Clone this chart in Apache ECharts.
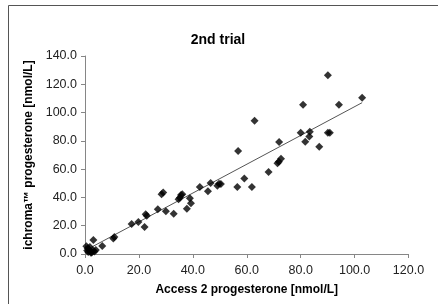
<!DOCTYPE html>
<html>
<head>
<meta charset="utf-8">
<script src="https://cdn.jsdelivr.net/npm/echarts@6/dist/echarts.min.js"></script>
<style>
  html, body { margin: 0; padding: 0; background: #fff; }
  #chart { width: 438px; height: 304px; }
</style>
</head>
<body>
<div id="chart"></div>
<script>
// Access 2 progesterone (x) vs ichroma progesterone (y), nmol/L
var accessValues = [
    0.5, 1.0, 1.5, 1.2, 2.0, 2.5, 3.0, 3.5, 4.0, 2.2, 1.8, 0.8,
    3.1, 6.4, 10.5, 10.9, 17.3, 19.8, 22.1, 22.5, 22.9, 27.0,
    28.4, 29.0, 30.0, 32.9, 34.7, 35.2, 35.6, 36.1, 37.8, 38.9, 39.3,
    42.6, 45.6, 46.6, 49.1, 49.7, 50.4, 56.5, 56.8, 59.1, 61.9, 62.9,
    68.1, 71.4, 71.9, 72.0, 72.7, 80.0, 80.9, 81.7, 83.2, 83.4,
    86.9, 90.1, 90.1, 90.8, 94.2, 102.8
];
var ichromaValues = [
    5.5, 4.0, 3.0, 1.5, 2.0, 1.0, 2.5, 1.8, 2.8, 0.8, 5.0, 2.5,
    9.9, 5.7, 11.0, 12.0, 21.2, 22.6, 19.1, 28.1, 27.0, 31.6,
    42.2, 43.4, 30.2, 28.5, 38.7, 39.8, 41.7, 42.2, 32.0, 39.4, 35.8,
    47.4, 44.3, 50.2, 48.3, 49.7, 49.5, 47.4, 72.8, 53.3, 47.4, 94.3,
    58.0, 64.1, 65.3, 79.2, 67.4, 85.8, 105.6, 79.4, 83.0, 86.5,
    75.9, 126.4, 85.8, 85.8, 105.6, 110.5
];
// linear trend line endpoints
var trendX = [0.5, 102.8];
var trendY = [2.9, 107.0];

var xTicks = [0, 20, 40, 60, 80, 100, 120];
var yTicks = [0, 20, 40, 60, 80, 100, 120, 140];

var points = accessValues.map(function (x, i) { return [x, ichromaValues[i]]; });
var trend = trendX.map(function (x, i) { return [x, trendY[i]]; });

var chartDom = document.getElementById('chart');
var myChart = echarts.init(chartDom);
var option;

var labelFont = 'Liberation Sans, Arial, sans-serif';
var axisColor = '#868686';

option = {
    backgroundColor: '#fff',
    animation: false,
    title: {
        text: '2nd trial',
        left: 213,
        top: 28,
        textAlign: 'center',
        textStyle: { fontSize: 14, fontWeight: 'bold', color: '#000', fontFamily: labelFont }
    },
    graphic: [{
        type: 'rect',
        shape: { x: 8.5, y: 5.5, width: 440, height: 310 },
        style: { fill: 'none', stroke: '#555', lineWidth: 1 },
        silent: true
    }],
    grid: { left: 85, top: 56, right: 29.5, bottom: 50 },
    xAxis: {
        type: 'value',
        min: xTicks[0],
        max: xTicks[xTicks.length - 1],
        interval: 20,
        name: 'Access 2 progesterone [nmol/L]',
        nameLocation: 'middle',
        nameGap: 30,
        nameTextStyle: { fontSize: 12, fontWeight: 'bold', color: '#000', fontFamily: labelFont },
        axisLine: { show: true, lineStyle: { color: axisColor } },
        axisTick: { show: true, length: 4, lineStyle: { color: axisColor } },
        splitLine: { show: false },
        axisLabel: {
            fontSize: 12.5, color: '#222', fontFamily: labelFont, margin: 10,
            formatter: function (v) { return v.toFixed(1); }
        }
    },
    yAxis: {
        type: 'value',
        min: yTicks[0],
        max: yTicks[yTicks.length - 1],
        interval: 20,
        name: 'ichroma™ progesterone [nmol/L]',
        nameLocation: 'middle',
        nameGap: 50,
        nameTextStyle: { fontSize: 12, fontWeight: 'bold', color: '#000', fontFamily: labelFont },
        axisLine: { show: true, lineStyle: { color: axisColor } },
        axisTick: { show: true, length: 4, lineStyle: { color: axisColor } },
        splitLine: { show: false },
        axisLabel: {
            fontSize: 12.5, color: '#222', fontFamily: labelFont, margin: 8,
            formatter: function (v) { return v.toFixed(1); }
        }
    },
    series: [
        {
            type: 'line',
            data: trend,
            showSymbol: false,
            lineStyle: { color: '#555', width: 1 },
            z: 1
        },
        {
            type: 'scatter',
            data: points,
            symbol: 'diamond',
            symbolSize: 8,
            itemStyle: { color: '#000' },
            z: 2
        }
    ]
};

option && myChart.setOption(option);
</script>
</body>
</html>
